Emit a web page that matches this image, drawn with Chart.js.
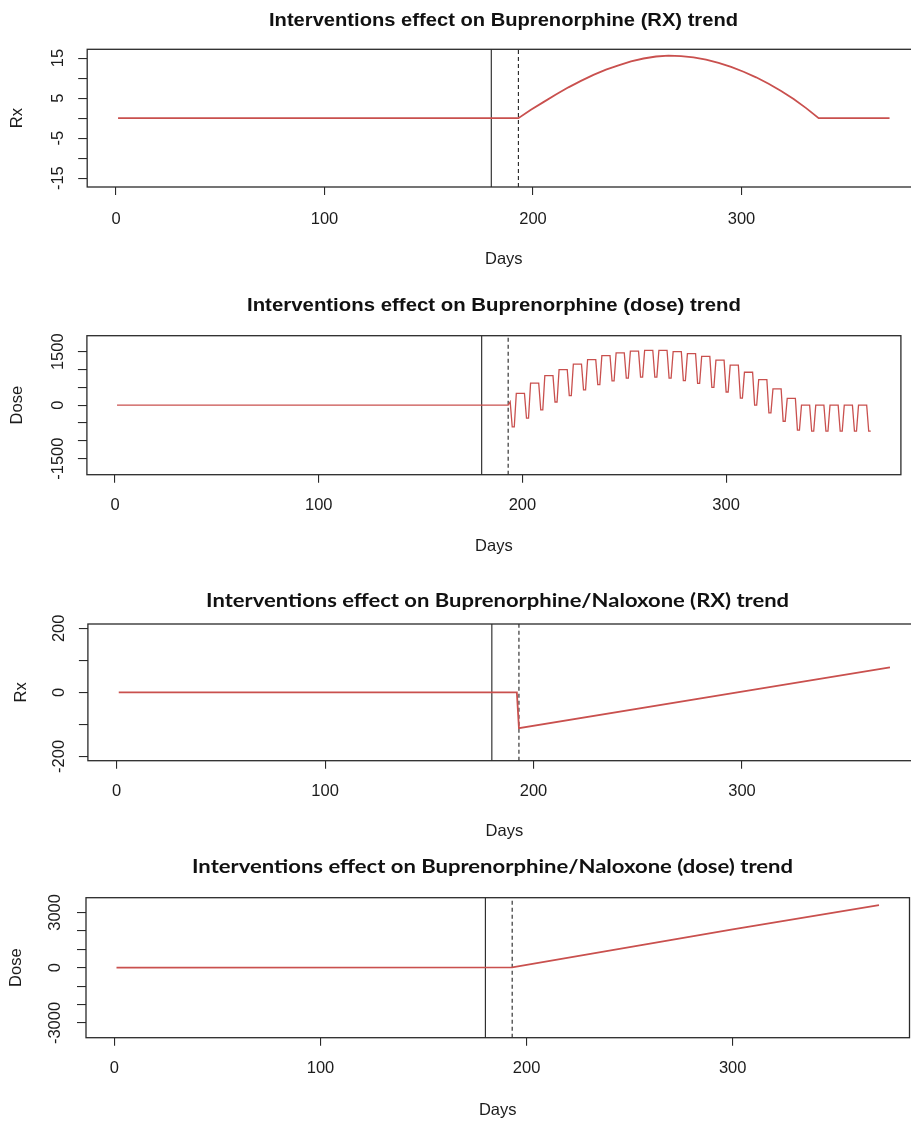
<!DOCTYPE html>
<html>
<head>
<meta charset="utf-8">
<script src="https://cdn.jsdelivr.net/npm/chart.js"></script>
<style>
html,body{margin:0;padding:0;background:#fff;overflow:hidden;width:911px;height:1123px;position:relative;}
canvas{position:absolute;left:0;}
</style>
</head>
<body>
<canvas id="c1"></canvas>
<canvas id="c2"></canvas>
<canvas id="c3"></canvas>
<canvas id="c4"></canvas>
<script>
// ---------------- DATA ----------------
const xTicks = [0, 100, 200, 300];
const phaseDay = 180;        // solid vertical line
const interventionDay = 193; // dashed vertical line

// Panel 1: Buprenorphine (RX)
const bupRxDays   = [1, 193, 199, 205, 211, 217, 223, 229, 235, 241, 247, 253, 259, 265, 271, 277, 283, 289, 295, 301, 307, 313, 319, 325, 331, 337, 371];
const bupRxValues = [0, 0, 2.1, 4.0, 5.9, 7.7, 9.3, 10.8, 12.1, 13.2, 14.2, 14.9, 15.4, 15.6, 15.5, 15.2, 14.6, 13.8, 12.8, 11.6, 10.2, 8.6, 6.8, 4.8, 2.5, 0, 0];
const bupRxTicks  = [-15, -10, -5, 0, 5, 10, 15];
const bupRxLabels = ['-15', '', '-5', '', '5', '', '15'];

// Panel 2: Buprenorphine (dose) - weekly cycle: 5 high days, 2 low days
const bupDoseLeadDays   = [1, 193, 194];
const bupDoseLeadValues = [0, 0, 93];
const bupDoseWeekTop = [330, 620, 830, 1000, 1150, 1280, 1390, 1470, 1515, 1540, 1540, 1505, 1445, 1370, 1265, 1125, 925, 720, 460, 190, 0, 0, 0, 0, 0];
const bupDoseWeekLow = [-610, -360, -130, 90, 270, 430, 580, 680, 760, 790, 790, 760, 690, 610, 500, 370, 200, 0, -215, -450, -700, -730, -730, -730, -730, -730];
const bupDoseWeekPattern = ['low', 'low', 'top', 'top', 'top', 'top', 'top']; // starting day 195
const bupDoseTicks  = [-1500, -1000, -500, 0, 500, 1000, 1500];
const bupDoseLabels = ['-1500', '', '', '0', '', '', '1500'];

// Panel 3: Buprenorphine/Naloxone (RX)
const naxRxDays   = [1, 192, 193, 300, 371];
const naxRxValues = [0, 0, -112, 2, 78];
const naxRxTicks  = [-200, -100, 0, 100, 200];
const naxRxLabels = ['-200', '', '0', '', '200'];

// Panel 4: Buprenorphine/Naloxone (dose)
const naxDoseDays   = [1, 193, 300, 371];
const naxDoseValues = [0, 20, 2080, 3400];
const naxDoseTicks  = [-3000, -2000, -1000, 0, 1000, 2000, 3000];
const naxDoseLabels = ['-3000', '', '', '0', '', '', '3000'];

// ---------------- BUILD SERIES ----------------
function pts(days, vals){ return days.map((d,i)=>({x:d, y:vals[i]})); }

function buildWeeklyDose(){
  const out = pts(bupDoseLeadDays, bupDoseLeadValues);
  let lowIdx = 0, topIdx = 0;
  let day = 195;
  while (lowIdx < bupDoseWeekLow.length) {
    for (let p = 0; p < bupDoseWeekPattern.length && lowIdx < bupDoseWeekLow.length; p++) {
      const kind = bupDoseWeekPattern[p];
      if (kind === 'low') {
        out.push({x:day, y:bupDoseWeekLow[lowIdx]});
        if (p === 1) lowIdx++;
      } else {
        if (topIdx >= bupDoseWeekTop.length) { day++; continue; }
        out.push({x:day, y:bupDoseWeekTop[topIdx]});
        if (p === 6) topIdx++;
      }
      day++;
    }
  }
  return out;
}

const RED = '#c9504e';
const FONT = '"Liberation Sans", Arial, Helvetica, sans-serif';

function makePanel(cfg){
  const canvas = document.getElementById(cfg.id);
  canvas.width = cfg.cw; canvas.height = cfg.ch;
  canvas.style.top = cfg.ct + 'px';
  canvas.style.width = cfg.cw + 'px'; canvas.style.height = cfg.ch + 'px';
  const T = cfg.ct;
  const plugin = {
    id: 'rstyle_' + cfg.id,
    afterDraw(chart){
      const ctx = chart.ctx, a = chart.chartArea, xs = chart.scales.x, ys = chart.scales.y;
      ctx.save();
      ctx.strokeStyle = '#2a2a2a'; ctx.lineWidth = 1.3;
      ctx.strokeRect(a.left, a.top, a.right - a.left, a.bottom - a.top);
      ctx.fillStyle = '#1c1c1c';
      ctx.textAlign = 'center'; ctx.textBaseline = 'middle';
      ctx.font = '16.5px ' + FONT;
      xTicks.forEach(v => ctx.fillText(String(v), xs.getPixelForValue(v), cfg.xLabY - T));
      cfg.yTicks.forEach((v,i) => {
        const lab = cfg.yLabels[i]; if (!lab) return;
        ctx.save(); ctx.translate(cfg.yLabX, ys.getPixelForValue(v)); ctx.rotate(-Math.PI/2);
        ctx.fillText(lab, 0, 0); ctx.restore();
      });
      ctx.font = '16.5px ' + FONT;
      ctx.fillText('Days', (a.left + a.right)/2, cfg.daysY - T);
      ctx.save(); ctx.translate(cfg.yTitleX, (a.top + a.bottom)/2); ctx.rotate(-Math.PI/2);
      ctx.fillText(cfg.yTitle, 0, 0); ctx.restore();
      // title (stretched to the reference width)
      ctx.save();
      ctx.font = cfg.titleFont;
      const w = ctx.measureText(cfg.title).width;
      ctx.translate(cfg.titleX, cfg.titleY - T);
      ctx.scale(cfg.titleW / w, 1);
      ctx.fillStyle = '#111';
      ctx.fillText(cfg.title, 0, 0);
      ctx.restore();
      ctx.restore();
    }
  };
  const yMin = cfg.yMin, yMax = cfg.yMax;
  new Chart(canvas, {
    type: 'line',
    data: { datasets: [
      { data: cfg.series, borderColor: RED, borderWidth: cfg.lw, pointRadius: 0, tension: 0, fill: false },
      { data: [{x:phaseDay, y:yMin}, {x:phaseDay, y:yMax}], borderColor: '#222', borderWidth: 1.1, pointRadius: 0 },
      { data: [{x:interventionDay, y:yMin}, {x:interventionDay, y:yMax}], borderColor: '#222', borderWidth: 1.1, borderDash: [4,3], pointRadius: 0 }
    ]},
    options: {
      responsive: false, animation: false, devicePixelRatio: 1,
      layout: { padding: { top: cfg.pt, right: cfg.pr, bottom: 0, left: 0 } },
      plugins: { legend: {display:false}, tooltip: {enabled:false}, title: {display:false} },
      elements: { point: { radius: 0 } },
      scales: {
        x: {
          type: 'linear', min: -13.8, max: 385.8, bounds: 'data',
          afterBuildTicks: s => { s.ticks = xTicks.map(v => ({value:v})); },
          ticks: { display: false },
          grid: { drawOnChartArea: false, drawTicks: true, tickLength: 8, color: '#2a2a2a', lineWidth: 1.1 },
          border: { display: false },
          afterFit: s => { s.height = cfg.xh; }
        },
        y: {
          type: 'linear', min: yMin, max: yMax, bounds: 'data',
          afterBuildTicks: s => { s.ticks = cfg.yTicks.map(v => ({value:v})); },
          ticks: { display: false },
          grid: { drawOnChartArea: false, drawTicks: true, tickLength: 9, color: '#2a2a2a', lineWidth: 1.1 },
          border: { display: false },
          afterFit: s => { s.width = cfg.pl; }
        }
      }
    },
    plugins: [plugin]
  });
}

makePanel({ id:'c1', ct:0, cw:930, ch:285, pt:49.3, pr:930-920.4, pl:87.2, xh:285-187,
  yMin:-17.2, yMax:17.2, yTicks:bupRxTicks, yLabels:bupRxLabels, series:pts(bupRxDays, bupRxValues), lw:1.8,
  xLabY:219, yLabX:58, daysY:259.3, yTitleX:17, yTitle:'Rx',
  title:'Interventions effect on Buprenorphine (RX) trend', titleFont:'bold 18px ' + FONT, titleX:503.5, titleY:20.7, titleW:469 });

makePanel({ id:'c2', ct:285, cw:911, ch:285, pt:335.7-285, pr:911-900.9, pl:86.9, xh:570-474.7,
  yMin:-1950, yMax:1950, yTicks:bupDoseTicks, yLabels:bupDoseLabels, series:buildWeeklyDose(), lw:1.3,
  xLabY:505, yLabX:58, daysY:546, yTitleX:17.3, yTitle:'Dose',
  title:'Interventions effect on Buprenorphine (dose) trend', titleFont:'bold 18px ' + FONT, titleX:494, titleY:306, titleW:494 });

makePanel({ id:'c3', ct:570, cw:930, ch:280, pt:624-570, pr:930-920.8, pl:87.9, xh:850-760.7,
  yMin:-213.5, yMax:213.5, yTicks:naxRxTicks, yLabels:naxRxLabels, series:pts(naxRxDays, naxRxValues), lw:1.8,
  xLabY:791.7, yLabX:59, daysY:831.7, yTitleX:21.7, yTitle:'Rx',
  title:'Interventions effect on Buprenorphine/Naloxone (RX) trend', titleFont:'bold 19px Lato, "Open Sans", sans-serif', titleX:497.6, titleY:600.7, titleW:583 });

makePanel({ id:'c4', ct:850, cw:911, ch:273, pt:897.7-850, pr:911-909.5, pl:86, xh:1123-1037.7,
  yMin:-3800, yMax:3800, yTicks:naxDoseTicks, yLabels:naxDoseLabels, series:pts(naxDoseDays, naxDoseValues), lw:1.8,
  xLabY:1068.3, yLabX:55.5, daysY:1110, yTitleX:16.7, yTitle:'Dose',
  title:'Interventions effect on Buprenorphine/Naloxone (dose) trend', titleFont:'bold 19px Lato, "Open Sans", sans-serif', titleX:492.5, titleY:866.7, titleW:601 });
</script>
</body>
</html>
